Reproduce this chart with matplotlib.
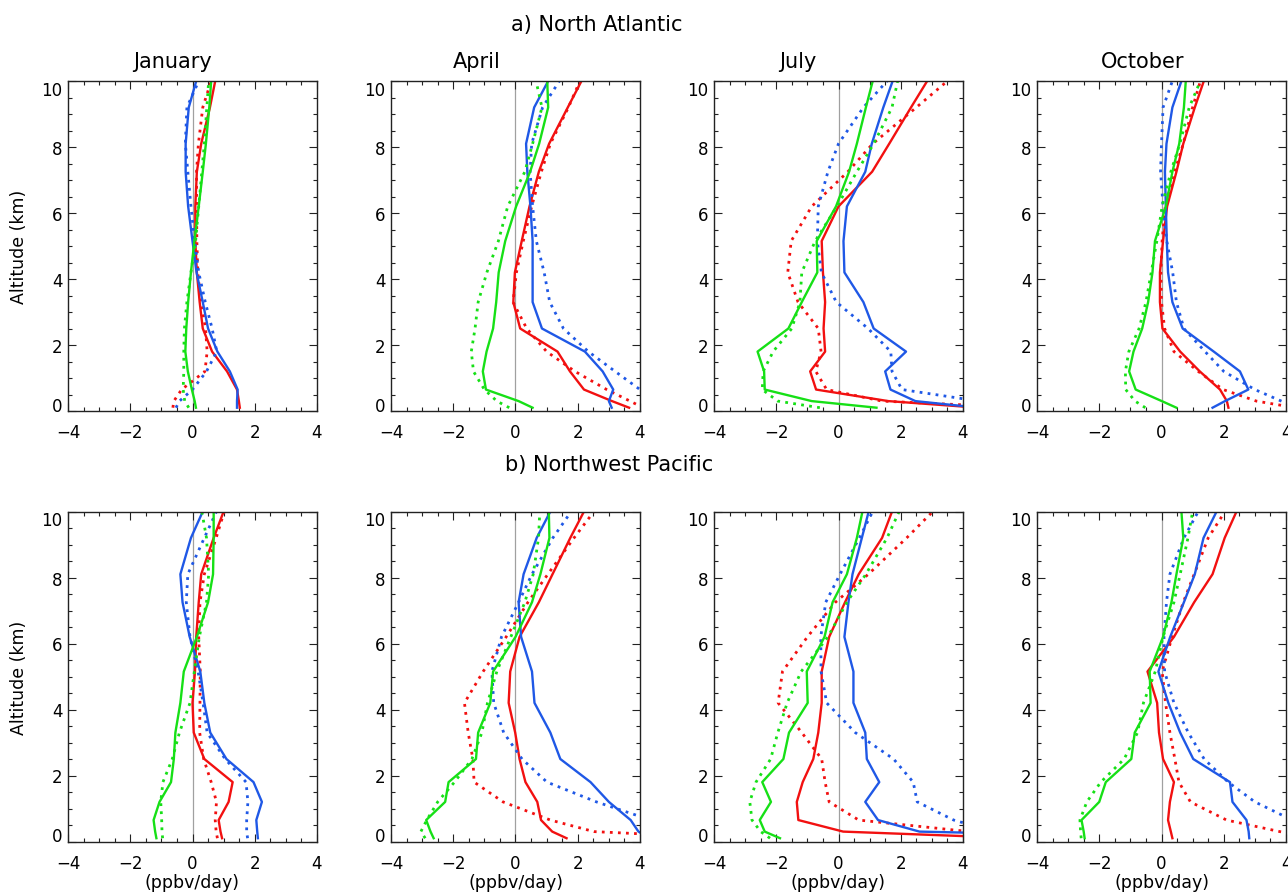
import matplotlib.pyplot as plt
from matplotlib.ticker import MultipleLocator

# model levels (km)
alt = [0.1, 0.3, 0.65, 1.2, 1.8, 2.5, 3.3, 4.2, 5.15, 6.2, 7.25, 8.1, 9.2, 10.0]

# a) North Atlantic
na_jan_red = [1.52, 1.49, 1.43, 1.11, 0.63, 0.33, 0.23, 0.14, 0.09, 0.09, 0.14, 0.28, 0.56, 0.73]
na_jan_red_dot = [-0.63, -0.6, -0.35, 0.4, 0.47, 0.42, 0.27, 0.17, 0.14, 0.13, 0.13, 0.19, 0.33, 0.6]
na_jan_blue = [1.43, 1.43, 1.45, 1.2, 0.8, 0.5, 0.33, 0.13, 0.0, -0.14, -0.22, -0.22, -0.12, 0.12]
na_jan_blue_dot = [-0.53, -0.42, 0.0, 0.45, 0.78, 0.63, 0.41, 0.2, 0.07, -0.05, -0.15, -0.23, -0.18, 0.2]
na_jan_green = [0.11, 0.07, -0.02, -0.15, -0.23, -0.2, -0.14, -0.05, 0.06, 0.2, 0.33, 0.43, 0.54, 0.6]
na_jan_green_dot = [-0.12, -0.25, -0.3, -0.28, -0.28, -0.26, -0.18, -0.05, 0.1, 0.2, 0.3, 0.38, 0.46, 0.52]

na_apr_red = [3.65, 3.1, 2.2, 1.75, 1.35, 0.15, -0.07, -0.02, 0.2, 0.45, 0.75, 1.08, 1.68, 2.12]
na_apr_red_dot = [4.1, 3.68, 2.93, 1.91, 1.0, 0.36, -0.08, 0.03, 0.25, 0.52, 0.83, 1.12, 1.7, 2.07]
na_apr_blue = [3.09, 3.0, 3.14, 2.8, 2.23, 0.85, 0.55, 0.55, 0.55, 0.48, 0.38, 0.34, 0.6, 1.05]
na_apr_blue_dot = [4.8, 4.4, 4.0, 3.2, 2.34, 1.54, 1.1, 0.92, 0.67, 0.55, 0.47, 0.52, 0.87, 1.41]
na_apr_green = [0.55, 0.1, -0.95, -1.05, -0.93, -0.72, -0.62, -0.54, -0.33, 0.02, 0.47, 0.76, 1.05, 1.02]
na_apr_green_dot = [-0.2, -0.6, -1.0, -1.35, -1.42, -1.3, -1.2, -0.92, -0.55, -0.25, 0.3, 0.55, 0.85, 0.66]

na_jul_red = [4.5, 1.6, -0.72, -0.91, -0.43, -0.48, -0.43, -0.5, -0.54, 0.0, 1.08, 1.63, 2.33, 2.85]
na_jul_red_dot = [6.0, 1.4, -0.38, -0.73, -0.56, -0.65, -1.3, -1.63, -1.52, -0.86, 0.3, 1.1, 2.5, 3.5]
na_jul_blue = [4.5, 2.47, 1.67, 1.5, 2.17, 1.13, 0.8, 0.19, 0.16, 0.27, 0.86, 1.07, 1.44, 1.74]
na_jul_blue_dot = [5.5, 4.5, 2.04, 1.72, 1.68, 0.95, -0.07, -0.55, -0.68, -0.65, -0.34, 0.0, 0.8, 1.56]
na_jul_green = [1.22, -0.86, -2.37, -2.39, -2.6, -1.61, -1.18, -0.68, -0.7, -0.08, 0.34, 0.59, 0.88, 1.1]
na_jul_green_dot = [-0.6, -1.95, -2.45, -2.42, -2.1, -1.5, -1.24, -1.18, -0.75, -0.05, 0.59, 1.13, 1.72, 1.9]

na_oct_red = [2.15, 2.1, 1.88, 1.23, 0.6, 0.03, -0.05, -0.05, 0.05, 0.18, 0.48, 0.7, 1.07, 1.36]
na_oct_red_dot = [4.3, 3.05, 1.98, 1.18, 0.4, 0.1, 0.0, -0.02, 0.02, 0.12, 0.42, 0.7, 1.0, 1.25]
na_oct_blue = [1.64, 2.04, 2.79, 2.52, 1.68, 0.68, 0.35, 0.21, 0.17, 0.14, 0.11, 0.16, 0.35, 0.64]
na_oct_blue_dot = [4.4, 3.85, 3.0, 2.0, 1.4, 0.72, 0.48, 0.36, 0.17, 0.05, -0.03, 0.0, 0.05, 0.35]
na_oct_green = [0.48, 0.01, -0.83, -1.04, -0.9, -0.62, -0.43, -0.29, -0.21, 0.14, 0.35, 0.57, 0.72, 0.78]
na_oct_green_dot = [-0.52, -0.85, -1.15, -1.16, -1.05, -0.72, -0.5, -0.33, -0.15, 0.02, 0.3, 0.59, 0.89, 1.25]

# b) Northwest Pacific
nwp_jan_red = [0.95, 0.9, 0.84, 1.16, 1.29, 0.38, 0.04, 0.0, 0.08, 0.12, 0.2, 0.28, 0.68, 1.0]
nwp_jan_red_dot = [0.8, 0.76, 0.73, 0.77, 0.6, 0.36, 0.23, 0.24, 0.25, 0.2, 0.24, 0.38, 0.76, 1.02]
nwp_jan_blue = [2.1, 2.08, 2.05, 2.23, 1.96, 1.09, 0.57, 0.38, 0.25, -0.09, -0.32, -0.39, -0.05, 0.33]
nwp_jan_blue_dot = [1.77, 1.74, 1.74, 1.78, 1.72, 1.05, 0.47, 0.34, 0.18, -0.08, -0.2, -0.15, 0.38, 0.77]
nwp_jan_green = [-1.16, -1.2, -1.25, -1.06, -0.69, -0.6, -0.55, -0.39, -0.28, 0.14, 0.5, 0.66, 0.68, 0.68]
nwp_jan_green_dot = [-0.96, -0.98, -0.99, -1.02, -0.95, -0.65, -0.42, -0.08, 0.06, 0.22, 0.45, 0.52, 0.45, 0.3]

nwp_apr_red = [1.64, 1.18, 0.82, 0.7, 0.32, 0.13, -0.01, -0.22, -0.17, 0.13, 0.75, 1.19, 1.76, 2.2]
nwp_apr_red_dot = [7.0, 2.52, 1.12, -0.4, -1.33, -1.37, -1.52, -1.64, -1.04, -0.3, 0.4, 1.04, 1.88, 2.52]
nwp_apr_blue = [4.3, 3.95, 3.7, 3.0, 2.41, 1.44, 1.12, 0.61, 0.53, 0.18, 0.1, 0.26, 0.68, 1.12]
nwp_apr_blue_dot = [5.8, 5.3, 4.35, 2.6, 1.01, 0.21, -0.38, -0.7, -0.76, -0.45, 0.1, 0.53, 1.2, 1.79]
nwp_apr_green = [-2.63, -2.73, -2.87, -2.26, -2.15, -1.27, -1.2, -0.81, -0.72, 0.0, 0.53, 0.8, 1.09, 1.07]
nwp_apr_green_dot = [-2.9, -3.04, -2.85, -2.5, -1.96, -1.4, -1.08, -0.9, -0.6, -0.15, 0.3, 0.57, 0.74, 0.78]

nwp_jul_red = [5.8, 0.15, -1.29, -1.34, -1.15, -0.81, -0.65, -0.54, -0.54, -0.3, 0.21, 0.65, 1.4, 1.72]
nwp_jul_red_dot = [6.0, 4.2, 0.65, -0.3, -0.43, -0.54, -1.18, -1.94, -1.8, -1.0, -0.1, 0.96, 2.19, 3.03]
nwp_jul_blue = [12.0, 2.6, 1.27, 0.86, 1.31, 0.91, 0.86, 0.48, 0.48, 0.19, 0.32, 0.45, 0.75, 0.97]
nwp_jul_blue_dot = [6.0, 5.0, 3.7, 2.53, 2.4, 1.77, 0.54, -0.38, -0.56, -0.57, -0.41, 0.05, 0.67, 1.1]
nwp_jul_green = [-1.88, -2.37, -2.53, -2.17, -2.45, -1.77, -1.59, -0.99, -1.02, -0.45, -0.19, 0.27, 0.59, 0.77]
nwp_jul_green_dot = [-2.2, -2.5, -2.78, -2.85, -2.65, -2.18, -1.95, -1.65, -1.2, -0.34, 0.27, 0.88, 1.56, 1.95]

nwp_oct_red = [0.35, 0.3, 0.21, 0.27, 0.4, 0.05, -0.08, -0.14, -0.45, 0.4, 1.05, 1.64, 2.03, 2.41]
nwp_oct_red_dot = [5.0, 3.8, 2.09, 0.93, 0.56, 0.43, 0.27, 0.13, 0.02, 0.34, 0.7, 1.05, 1.5, 2.04]
nwp_oct_blue = [2.82, 2.8, 2.73, 2.28, 2.2, 1.02, 0.6, 0.22, -0.1, 0.28, 0.72, 1.07, 1.35, 1.77]
nwp_oct_blue_dot = [5.5, 5.0, 4.2, 3.0, 2.14, 1.37, 0.86, 0.4, 0.1, 0.08, 0.16, 0.27, 0.72, 1.18]
nwp_oct_green = [-2.47, -2.5, -2.57, -2.0, -1.79, -0.97, -0.86, -0.35, -0.38, 0.05, 0.32, 0.48, 0.7, 0.64]
nwp_oct_green_dot = [-2.58, -2.6, -2.62, -2.4, -1.95, -1.2, -0.77, -0.58, -0.2, 0.05, 0.4, 0.6, 0.85, 1.0]

months = ['January', 'April', 'July', 'October']
regions = ['a) North Atlantic', 'b) Northwest Pacific']

panels = [
    [(na_jan_red, na_jan_red_dot, na_jan_blue, na_jan_blue_dot, na_jan_green, na_jan_green_dot),
     (na_apr_red, na_apr_red_dot, na_apr_blue, na_apr_blue_dot, na_apr_green, na_apr_green_dot),
     (na_jul_red, na_jul_red_dot, na_jul_blue, na_jul_blue_dot, na_jul_green, na_jul_green_dot),
     (na_oct_red, na_oct_red_dot, na_oct_blue, na_oct_blue_dot, na_oct_green, na_oct_green_dot)],
    [(nwp_jan_red, nwp_jan_red_dot, nwp_jan_blue, nwp_jan_blue_dot, nwp_jan_green, nwp_jan_green_dot),
     (nwp_apr_red, nwp_apr_red_dot, nwp_apr_blue, nwp_apr_blue_dot, nwp_apr_green, nwp_apr_green_dot),
     (nwp_jul_red, nwp_jul_red_dot, nwp_jul_blue, nwp_jul_blue_dot, nwp_jul_green, nwp_jul_green_dot),
     (nwp_oct_red, nwp_oct_red_dot, nwp_oct_blue, nwp_oct_blue_dot, nwp_oct_green, nwp_oct_green_dot)],
]

RED, BLUE, GREEN = '#f21010', '#1f58e6', '#16e016'
colors = [RED, RED, BLUE, BLUE, GREEN, GREEN]
dotted = (0, (1, 1.9))
styles = ['-', dotted, '-', dotted, '-', dotted]
widths = [1.7, 2.0, 1.7, 2.0, 1.7, 2.0]

W, H = 1288, 895
fig = plt.figure(figsize=(W / 100, H / 100), dpi=100)

col_left = [68, 391, 714, 1037]
row_top = [82, 512.5]
aw, ah = 249, 330
month_x = [173, 477, 798, 1143]

for r in range(2):
    for c in range(4):
        ax = fig.add_axes([col_left[c] / W, 1 - (row_top[r] + ah) / H, aw / W, ah / H])
        ax.axvline(0, color='#a0a0a0', lw=0.9, zorder=1)
        for vals, col, ls, lw in zip(panels[r][c], colors, styles, widths):
            ax.plot(vals, alt, color=col, ls=ls, lw=lw, zorder=2)
        ax.set_xlim(-4, 4)
        ax.set_ylim(0, 10)
        ax.set_xticks([-4, -2, 0, 2, 4])
        ax.set_yticks([0, 2, 4, 6, 8, 10])
        ax.xaxis.set_minor_locator(MultipleLocator(0.5))
        ax.yaxis.set_minor_locator(MultipleLocator(0.5))
        ax.tick_params(which='both', direction='in', top=True, right=True, width=0.8, color='#222222')
        ax.tick_params(which='major', length=6, labelsize=12)
        ax.tick_params(axis='x', which='major', pad=9)
        ax.tick_params(axis='y', which='major', pad=4)
        ax.tick_params(which='minor', length=3)
        for sp in ax.spines.values():
            sp.set_linewidth(1.0)
            sp.set_color('#222222')
        ylabs = ax.get_yticklabels()
        ylabs[0].set_va('baseline')
        ylabs[-1].set_va('top')
        if c == 0:
            fig.text(19 / W, 1 - (row_top[r] + ah / 2) / H, 'Altitude (km)',
                     rotation=90, ha='center', va='center', fontsize=12.5)
        if r == 1:
            fig.text((col_left[c] + aw / 2) / W, 1 - 883 / H, '(ppbv/day)',
                     ha='center', va='center', fontsize=12.5)
        if r == 0:
            fig.text(month_x[c] / W, 1 - 62 / H, months[c], ha='center', va='center', fontsize=15)

fig.text(597 / W, 1 - 25 / H, regions[0], ha='center', va='center', fontsize=15)
fig.text(609 / W, 1 - 465 / H, regions[1], ha='center', va='center', fontsize=15)

fig.savefig('out.png', dpi=100)
